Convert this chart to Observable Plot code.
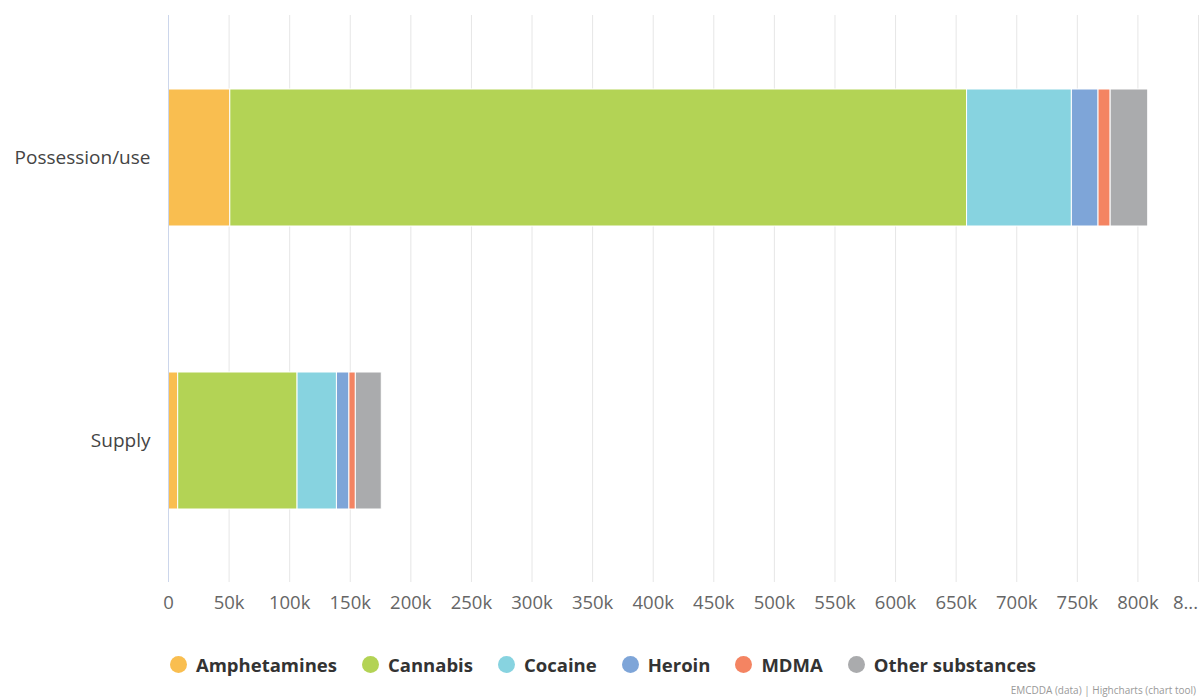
<!DOCTYPE html>
<html>
<head>
<meta charset="utf-8">
<script src="https://cdn.jsdelivr.net/npm/d3@7"></script>
<script src="https://cdn.jsdelivr.net/npm/@observablehq/plot@0.6"></script>
<style>
  body { margin: 0; background: #fff; font-family: "Open Sans", "DejaVu Sans", sans-serif; }
  #wrap { width: 1200px; height: 697px; position: relative; overflow: hidden; }
  #legend { position: absolute; top: 652px; left: 0; width: 1206px; display: flex; justify-content: center; gap: 25px; font-weight: bold; font-size: 18.5px; color: #333; }
  .item { display: flex; align-items: center; gap: 9px; }
  .dot { width: 17px; height: 17px; border-radius: 50%; display: inline-block; }
  #credit { position: absolute; top: 683px; right: 4px; font-size: 10px; color: #999; }
</style>
</head>
<body>
<div id="wrap">
  <div id="chart"></div>
  <div id="legend"></div>
  <div id="credit">EMCDDA (data) | Highcharts (chart tool)</div>
</div>
<script>
const categories = ["Possession/use", "Supply"];
const substances = ["Amphetamines", "Cannabis", "Cocaine", "Heroin", "MDMA", "Other substances"];
const colors = ["#f9be50", "#b3d355", "#87d3e0", "#7ea5d8", "#f48462", "#aaabad"];
const possessionValues = [51000, 608000, 86500, 22000, 10000, 31000];
const supplyValues = [8000, 98500, 32500, 10300, 5300, 21400];
const xTicks = [0, 50000, 100000, 150000, 200000, 250000, 300000, 350000, 400000, 450000, 500000, 550000, 600000, 650000, 700000, 750000, 800000, 850000];
const xTickLabels = ["0", "50k", "100k", "150k", "200k", "250k", "300k", "350k", "400k", "450k", "500k", "550k", "600k", "650k", "700k", "750k", "800k", "8..."];

const rows = [];
substances.forEach((s, i) => {
  rows.push({category: categories[0], substance: s, value: possessionValues[i]});
  rows.push({category: categories[1], substance: s, value: supplyValues[i]});
});

const fmt = (d) => xTickLabels[xTicks.indexOf(d)];
const lastTick = xTicks[xTicks.length - 1];

const chart = Plot.plot({
  width: 1200,
  height: 620,
  marginLeft: 168,
  marginRight: 2,
  marginTop: 15,
  marginBottom: 38,
  style: {fontFamily: "'Open Sans', sans-serif", fontSize: "16px", color: "#666"},
  x: {domain: [0, 850000], ticks: xTicks, label: null},
  y: {domain: categories, paddingInner: 0.517, paddingOuter: 0.2585, label: null},
  color: {domain: substances, range: colors},
  marks: [
    Plot.gridX(xTicks.slice(1), {stroke: "#e6e6e6", strokeOpacity: 1}),
    Plot.barX(rows, Plot.stackX({x: "value", y: "category", fill: "substance", order: substances, stroke: "#fff", strokeWidth: 1})),
    Plot.ruleX([0], {stroke: "#ccd6eb", strokeWidth: 1}),
    Plot.axisX({ticks: xTicks.slice(0, -1), tickSize: 0, tickPadding: 13, tickFormat: fmt, fontSize: 18.5, fill: "#666", label: null}),
    Plot.axisX({ticks: [lastTick], tickSize: 0, tickPadding: 13, tickFormat: fmt, fontSize: 18.5, fill: "#666", dx: -13, label: null}),
    Plot.axisY({tickSize: 0, tickPadding: 18, fontSize: 19, fill: "#444", label: null})
  ]
});
document.getElementById("chart").appendChild(chart);

const legend = document.getElementById("legend");
substances.forEach((s, i) => {
  const item = document.createElement("div");
  item.className = "item";
  const dot = document.createElement("span");
  dot.className = "dot";
  dot.style.background = colors[i];
  const label = document.createElement("span");
  label.textContent = s;
  item.appendChild(dot);
  item.appendChild(label);
  legend.appendChild(item);
});
</script>
</body>
</html>
